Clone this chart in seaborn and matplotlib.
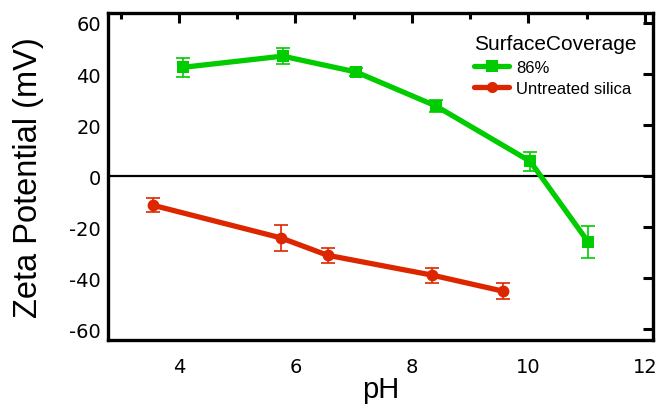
import matplotlib
matplotlib.use("Agg")
import matplotlib.pyplot as plt
import seaborn as sns
import pandas as pd
from matplotlib.ticker import MultipleLocator

# ---- data ----
series_names = ["86%", "Untreated silica"]
ph_86 = [4.06, 5.78, 7.04, 8.41, 10.03, 11.03]
zeta_86 = [42.6, 47.0, 40.8, 27.5, 5.8, -25.9]
err_86 = [3.8, 3.0, 1.5, 2.2, 3.6, 6.2]
ph_untreated = [3.55, 5.75, 6.55, 8.35, 9.57]
zeta_untreated = [-11.4, -24.2, -31.0, -38.8, -45.1]
err_untreated = [2.8, 5.0, 3.0, 3.0, 3.2]
x_ticks = [4, 6, 8, 10, 12]
y_ticks = [-60, -40, -20, 0, 20, 40, 60]

green = "#00CC00"
red = "#DD2600"

df = pd.DataFrame({
    "pH": ph_86 + ph_untreated,
    "zeta": zeta_86 + zeta_untreated,
    "err": err_86 + err_untreated,
    "SurfaceCoverage": [series_names[0]] * len(ph_86) + [series_names[1]] * len(ph_untreated),
})

sns.set_style("white")
plt.rcParams["font.family"] = ["DejaVu Sans"]
plt.rcParams["axes.unicode_minus"] = False
plt.rcParams["text.color"] = "black"
plt.rcParams["axes.labelcolor"] = "black"
plt.rcParams["xtick.color"] = "black"
plt.rcParams["ytick.color"] = "black"

fig = plt.figure(figsize=(6.61, 4.06), dpi=100)
ax = fig.add_axes([108 / 661, 1 - 341 / 406, (653 - 108) / 661, (341 - 14) / 406])

palette = {series_names[0]: green, series_names[1]: red}
markers = {series_names[0]: "s", series_names[1]: "o"}

ax.axhline(0, color="black", lw=1.6, zorder=1)

sns.lineplot(data=df, x="pH", y="zeta", hue="SurfaceCoverage", style="SurfaceCoverage",
             palette=palette, markers=markers, dashes=False, sort=False,
             estimator=None, lw=3.8, markersize=8.5, markeredgewidth=0, ax=ax, zorder=3)

for name in series_names:
    sub = df[df["SurfaceCoverage"] == name]
    ax.errorbar(sub["pH"], sub["zeta"], yerr=sub["err"], fmt="none",
                ecolor=palette[name], elinewidth=1.2, capsize=5, capthick=1.2, zorder=4)

ax.set_xlim(2.78, 12.14)
ax.set_ylim(-64.2, 63.9)
ax.set_xticks(x_ticks)
ax.set_yticks(y_ticks)
ax.xaxis.set_minor_locator(MultipleLocator(1))

for s in ax.spines.values():
    s.set_linewidth(2.4)
    s.set_color("black")
    s.set_visible(True)

ax.tick_params(axis="both", which="both", direction="in", top=True, right=True,
               color="black", width=2.2, labelcolor="black")
ax.tick_params(axis="both", which="major", length=7, labelsize=14)
ax.tick_params(axis="both", which="minor", length=4.5)
ax.tick_params(axis="x", which="major", pad=12)
ax.tick_params(axis="y", which="major", pad=5)

ax.set_xlabel("pH", fontsize=21, family=["Liberation Sans"], color="black")
ax.set_ylabel("Zeta Potential (mV)", fontsize=23.5, family=["Liberation Sans"], color="black")
ax.xaxis.set_label_coords(0.5, -0.108)
ax.yaxis.set_label_coords(-0.118, 0.5)

leg = ax.legend(title="SurfaceCoverage", loc="upper left", bbox_to_anchor=(0.672, 0.935),
                frameon=False, fontsize=12, title_fontsize=15,
                handlelength=2.1, handletextpad=0.4, labelspacing=0.38,
                borderaxespad=0, borderpad=0, alignment="left")
for t in leg.get_texts():
    t.set_family(["Liberation Sans"])
    t.set_color("black")
leg.get_title().set_family(["Liberation Sans"])
leg.get_title().set_color("black")
for h in leg.legend_handles:
    h.set_linewidth(3.8)
    h.set_markersize(8)

fig.savefig("out.png", dpi=100)
